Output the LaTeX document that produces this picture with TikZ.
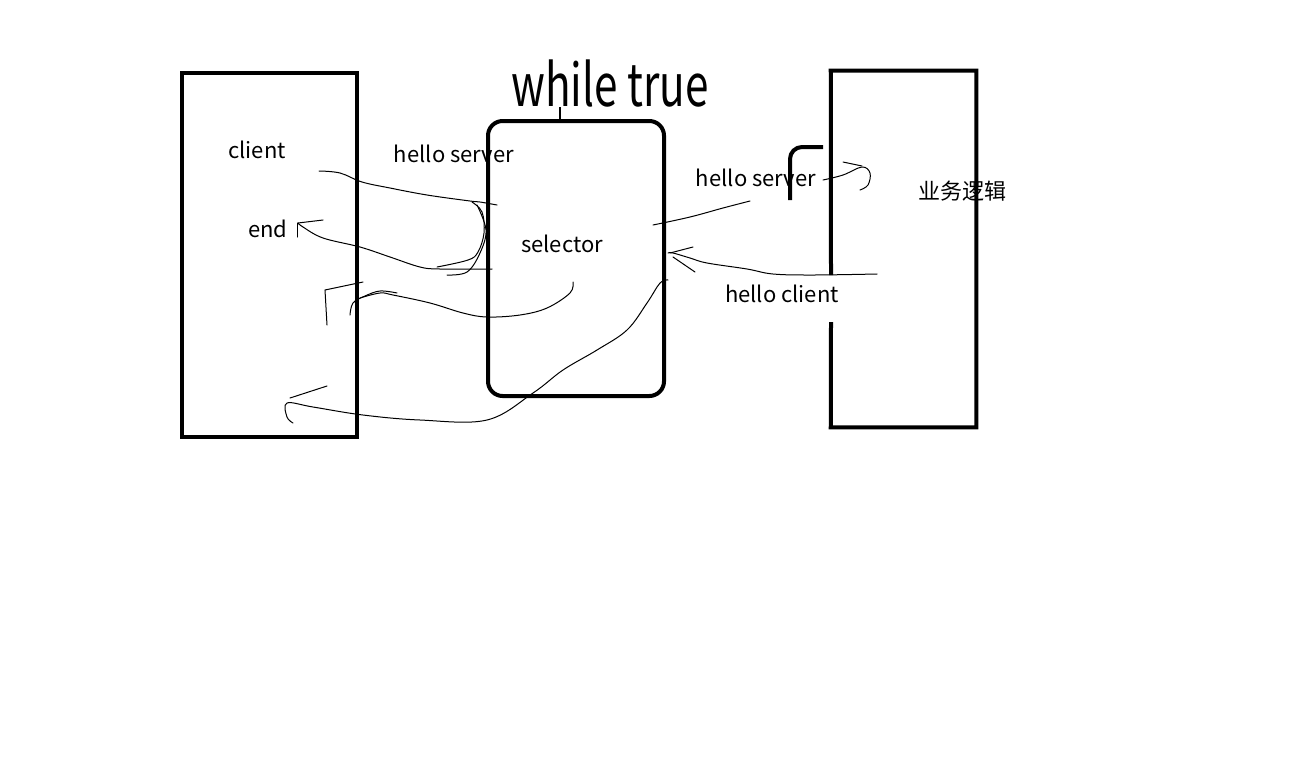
\documentclass[tikz,border=0pt]{standalone}
\usepackage{fontspec}
\setmainfont{Noto Sans CJK SC}
\begin{document}
\begin{tikzpicture}[x=0.75pt,y=-0.75pt,
  thick box/.style={draw=black,line width=3pt},
  pen/.style={draw=black,line width=0.75pt,line cap=round,line join=round},
  lbl/.style={font=\fontsize{16.5pt}{18pt}\selectfont,inner sep=0pt,text=black}]
\useasboundingbox[fill=white] (0,0) rectangle (1308,775);
% boxes
\node[thick box,minimum width=131.25pt,minimum height=273pt,inner sep=0pt] (client) at (269.5,255) {};
\node[thick box,rounded corners=11pt,minimum width=132pt,minimum height=206.25pt,inner sep=0pt] (sel) at (576,258.5) {};
\node[minimum width=108.75pt,minimum height=267pt,inner sep=0pt] (biz) at (903.5,249) {};
\draw[line width=3pt] (831,275) -- (biz.north west) -- (biz.north east) -- (biz.south east) -- (biz.south west) -- (831,322);
% labels
\node[lbl] (tclient) at (257,150) {client};
\node[lbl] (tend) at (268,229) {end};
\node[lbl] (ths1) at (454,154) {hello server};
\node[lbl] (tsel) at (562,244) {selector};
\node[lbl] (ths2) at (756,178) {hello server};
\node[lbl] (thc) at (782,294) {hello client};
\node[lbl] (tbiz) at (962,191) {业务逻辑};
\node[inner sep=0pt,font=\fontsize{44pt}{46pt}\selectfont,xscale=0.72,text=black] (wt) at (610,84) {while true};
\coordinate (wtl) at (560,107);
\draw[line width=1.5pt] (wtl) -- (wtl |- sel.north);
% thick hook
\draw[line width=3pt,rounded corners=9pt] (790,200) -- (790,147) -- (823,147);
% left side strokes
\draw[pen] plot[smooth,tension=0.6] coordinates {(319,171) (340,173) (362,182) (390,188) (427,195) (470,201) (480,202) (497,205)};
\draw[pen] plot[smooth,tension=0.6] coordinates {(472,202) (482,212) (484,233) (478,252) (468,260) (437,267)};
\draw[pen] plot[smooth,tension=0.6] coordinates {(477,205) (486,230) (480,253) (467,272) (447,275)};
\draw[pen] plot[smooth,tension=0.6] coordinates {(492,269) (440,269) (420,267) (390,257) (360,247) (323,238) (303,227) (298,223)};
\draw[pen] (298,223) -- (323,220);
\draw[pen] (297,223) -- (297,237);
\draw[pen] plot[smooth,tension=0.6] coordinates {(573,282) (570,293) (547,308) (520,315) (487,317) (463,313) (430,303) (393,295) (380,293) (360,298)};
\draw[pen] plot[smooth,tension=0.6] coordinates {(350,315) (353,303) (365,296) (380,291) (397,293)};
\draw[pen] (325,290) -- (363,282);
\draw[pen] (325,290) -- (327,325);
\draw[pen] plot[smooth,tension=0.6] coordinates {(668,280) (660,283) (647,303) (627,330) (597,350) (563,370) (533,393) (487,420) (420,420) (363,415) (313,407) (287,403) (287,417) (293,423)};
\draw[pen] (290,398) -- (327,386);
% right side strokes
\draw[pen] plot[smooth,tension=0.6] coordinates {(653,225) (690,217) (723,208) (750,201)};
\draw[pen] plot[smooth,tension=0.6] coordinates {(823,180) (843,175) (862,167) (870,173) (868,185) (860,190)};
\draw[pen] (843,162) -- (862,166);
\draw[pen] plot[smooth,tension=0.6] coordinates {(877,274) (813,275) (773,274) (747,269) (707,263) (690,258) (673,253) (668,253)};
\draw[pen] (670,253) -- (693,247);
\draw[pen] (673,257) -- (695,272);
\end{tikzpicture}
\end{document}
